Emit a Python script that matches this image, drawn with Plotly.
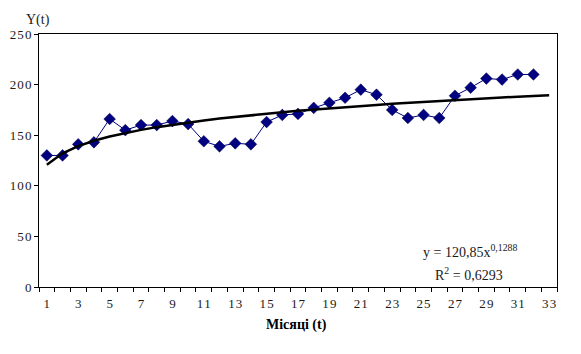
import numpy as np
import plotly.graph_objects as go

months = list(range(1, 33))
values = [130, 130, 141, 143, 166, 155, 160, 160, 164, 161, 144, 139, 142, 141, 163, 170,
          171, 177, 182, 187, 195, 190, 175, 167, 170, 167, 189, 197, 206, 205, 210, 210]
trend_a = 120.85
trend_b = 0.1288
trend_t = list(range(1, 34))
x_tick_vals = list(range(1, 34, 2))
y_ticks = [0, 50, 100, 150, 200, 250]

trend_y = [trend_a * t ** trend_b for t in trend_t]

GAP = "\u200a"
def spaced(s):
    return GAP.join(s)

FONT = "Liberation Serif"
TXT = "#1a1a1a"

fig = go.Figure()
fig.add_trace(go.Scatter(
    x=months, y=values, mode="lines+markers",
    line=dict(color="#000080", width=1),
    marker=dict(symbol="diamond", size=9, color="#000080",
                line=dict(color="#000040", width=0.5)),
    showlegend=False, hoverinfo="skip"))
fig.add_trace(go.Scatter(
    x=trend_t, y=trend_y, mode="lines",
    line=dict(color="black", width=2.5),
    showlegend=False, hoverinfo="skip"))

fig.update_layout(
    width=581, height=354,
    margin=dict(l=39, r=24, t=34, b=67, autoexpand=False),
    paper_bgcolor="white", plot_bgcolor="white",
    font=dict(family=FONT, size=13, color=TXT),
    xaxis=dict(range=[0.5, 33.5], tickvals=x_tick_vals,
               ticktext=[spaced(str(v)) for v in x_tick_vals],
               ticks="", showgrid=False, zeroline=False, automargin=False,
               showline=True, linecolor="black", linewidth=1, mirror=True,
               tickfont=dict(family=FONT, size=13, color=TXT), ticklabelstandoff=4,
               minor=dict(tickvals=[v + 0.5 for v in range(0, 34)], ticks="outside",
                          ticklen=4, tickcolor="black", tickwidth=1, showgrid=False)),
    yaxis=dict(range=[0, 250], tickvals=y_ticks,
               ticktext=[spaced(str(v)) for v in y_ticks],
               ticks="outside", ticklen=4, automargin=False,
               tickcolor="black", showgrid=False, zeroline=False,
               showline=True, linecolor="black", linewidth=1, mirror=True,
               tickfont=dict(family=FONT, size=13, color=TXT)),
)

fig.add_annotation(text="Y(t)", xref="paper", yref="paper", x=-0.002, y=1.055,
                   xanchor="center", yanchor="middle",
                   showarrow=False, font=dict(family=FONT, size=14, color=TXT))
fig.add_annotation(text="<b>Місяці (t)</b>", xref="paper", yref="paper", x=0.498, y=-0.15,
                   xanchor="center", yanchor="middle",
                   showarrow=False, font=dict(family=FONT, size=14, color="black"))
fig.add_annotation(text="y = 120,85x<sup>0,1288</sup>", xref="x", yref="y", x=27.96, y=36,
                   xanchor="center", yanchor="middle",
                   showarrow=False, font=dict(family=FONT, size=14, color=TXT))
fig.add_annotation(text="R<sup>2</sup> = 0,6293", xref="x", yref="y", x=27.9, y=12.5,
                   xanchor="center", yanchor="middle",
                   showarrow=False, font=dict(family=FONT, size=14, color=TXT))

fig.write_html("out.html")
